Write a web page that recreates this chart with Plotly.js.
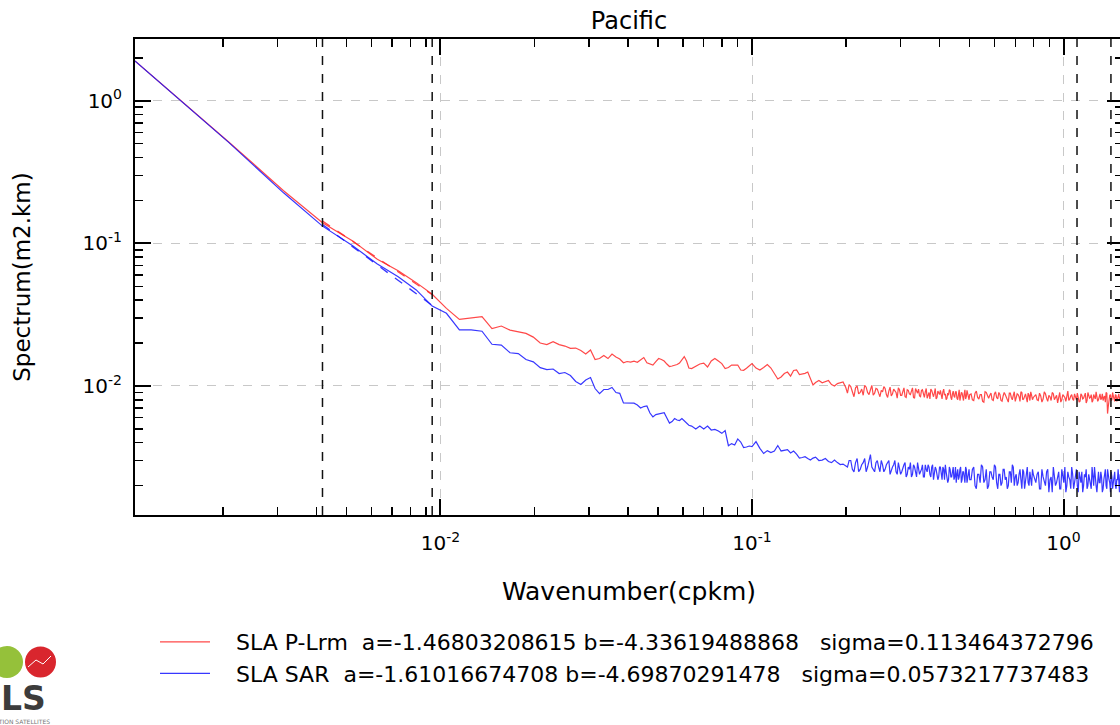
<!DOCTYPE html>
<html><head><meta charset="utf-8">
<script src="https://cdn.plot.ly/plotly-3.0.1.min.js"></script>
<style>html,body{margin:0;padding:0;overflow:hidden;background:#fff}#chart{width:1140px;height:725px}</style>
</head><body><div id="chart"></div>
<script>
// ---- wavenumbers (cpkm) ----
const kLow = [0.001045,0.00209,0.003135,0.00418,0.005225,0.00627,0.007315,0.00836,0.009405,0.01045,
  0.0115,0.01254,0.01359,0.01463,0.01568,0.01672,0.01777,0.01881,0.01986,0.0209,
  0.02195,0.02299,0.02404,0.02508,0.02613,0.02717,0.02822,0.02926,0.03031,0.03135,
  0.0324,0.03344,0.03449,0.03553,0.03658,0.03762,0.03867,0.03971,0.04076,0.0418,
  0.04285,0.04389,0.04494,0.04598,0.04703,0.04807,0.04912,0.05016,0.05121,0.05225,
  0.0533,0.05434,0.05539,0.05643,0.05748,0.05852,0.05957,0.06061,0.06166,0.0627];
const kMid = [0.064,0.066,0.068,0.07,0.072,0.074,0.076,0.078,0.08,0.082,0.084,0.086,0.088,0.09,0.092,0.094,0.096,0.098,0.1,
  0.103,0.106,0.109,0.112,0.115,0.118,0.121,0.124,0.127,0.13,0.133,0.136,0.139,0.142,0.145,0.148,0.151,0.154,0.157,0.16,
  0.164,0.168,0.172,0.176,0.18,0.184,0.188,0.192,0.196,0.2];
const kHighA = [0.205,0.21,0.215,0.22,0.225,0.23,0.235,0.24,0.245,0.25,
  0.255,0.26,0.265,0.27,0.275,0.28,0.285,0.29,0.295,0.3,
  0.305,0.31,0.315,0.32,0.325,0.33,0.335,0.34,0.345,0.35,
  0.355,0.36,0.365,0.37,0.375,0.38,0.385,0.39,0.395,0.4,
  0.405,0.41,0.415,0.42,0.425,0.43,0.435,0.44,0.445,0.45,
  0.455,0.46,0.465,0.47,0.475,0.48,0.485,0.49,0.495,0.5];
const kHighB = [0.51,0.52,0.53,0.54,0.55,0.56,0.57,0.58,0.59,0.6,
  0.61,0.62,0.63,0.64,0.65,0.66,0.67,0.68,0.69,0.7,
  0.71,0.72,0.73,0.74,0.75,0.76,0.77,0.78,0.79,0.8];
const kHighC = [0.815,0.83,0.845,0.86,0.875,0.89,0.905,0.92,0.935,0.95,
  0.965,0.98,0.995,1.01,1.025,1.04,1.055,1.07,1.085,1.1,
  1.115,1.13,1.145,1.16,1.175,1.19,1.205,1.22,1.235,1.25,
  1.265,1.28,1.295,1.31,1.325,1.34,1.355,1.37,1.385,1.4,
  1.415,1.43,1.445,1.46,1.475,1.49,1.505,1.52,1.535,1.55,1.565];
// in-between wavenumbers of the noisy plateau
const kFillA = [0.2025,0.2075,0.2125,0.2175,0.2225,0.2275,0.2325,0.2375,0.2425,0.2475,
  0.2525,0.2575,0.2625,0.2675,0.2725,0.2775,0.2825,0.2875,0.2925,0.2975,
  0.3025,0.3075,0.3125,0.3175,0.3225,0.3275,0.3325,0.3375,0.3425,0.3475,
  0.3525,0.3575,0.3625,0.3675,0.3725,0.3775,0.3825,0.3875,0.3925,0.3975,
  0.4025,0.4075,0.4125,0.4175,0.4225,0.4275,0.4325,0.4375,0.4425,0.4475,
  0.4525,0.4575,0.4625,0.4675,0.4725,0.4775,0.4825,0.4875,0.4925,0.4975];
const kFillB = [0.505,0.515,0.525,0.535,0.545,0.555,0.565,0.575,0.585,0.595,
  0.605,0.615,0.625,0.635,0.645,0.655,0.665,0.675,0.685,0.695,
  0.705,0.715,0.725,0.735,0.745,0.755,0.765,0.775,0.785,0.795];
const kFillC = [0.8225,0.8375,0.8525,0.8675,0.8825,0.8975,0.9125,0.9275,0.9425,0.9575,
  0.9725,0.9875,1.0025,1.0175,1.0325,1.0475,1.0625,1.0775,1.0925,1.1075,
  1.1225,1.1375,1.1525,1.1675,1.1825,1.1975,1.2125,1.2275,1.2425,1.2575,
  1.2725,1.2875,1.3025,1.3175,1.3325,1.3475,1.3625,1.3775,1.3925,1.4075,
  1.4225,1.4375,1.4525,1.4675,1.4825,1.4975,1.5125,1.5275,1.5425,1.5575];

// ---- SLA P-Lrm spectrum (m2.km) ----
const redLow = [1.90,0.514,0.234,0.1395,0.104,0.0772,0.0643,0.0530,0.0439,0.0350,
  0.0293,0.0300,0.0306,0.0252,0.0263,0.02465,0.02387,0.02336,0.0220,0.01998,
  0.0195,0.0204,0.0195,0.01904,0.01834,0.01844,0.01771,0.01673,0.01785,0.01531,
  0.01556,0.01633,0.01556,0.01673,0.01594,0.01544,0.01455,0.01483,0.01471,0.0149,
  0.01466,0.01519,0.01582,0.01455,0.01424,0.01401,0.01483,0.01556,0.01531,0.01495,
  0.01424,0.01368,0.01379,0.01393,0.01412,0.01447,0.01519,0.01607,0.01495,0.01335];
const redMid = [0.01325,0.01372,0.01424,0.01447,0.01357,0.01495,0.01556,0.01495,0.01435,0.01325,
  0.01346,0.01401,0.01401,0.01401,0.01293,0.01287,0.01331,0.01379,0.01435,
  0.01335,0.01293,0.01346,0.01412,0.01335,0.01232,0.01118,0.01155,0.01222,0.01252,
  0.01173,0.01283,0.01293,0.01203,0.01212,0.01226,0.01252,0.01127,0.01015,0.01057,
  0.01091,0.01052,0.01065,0.01091,0.01023,0.00998,0.01039,0.01057,0.01065,0.00975];
const redHighA = [0.0102,0.0091,0.0097,0.0088,0.0095,0.0101,0.0090,0.0094,0.0086,0.0096,
  0.0089,0.0093,0.0099,0.0087,0.0092,0.0085,0.0095,0.0090,0.0097,0.0086,
  0.0091,0.0084,0.0094,0.0088,0.0092,0.0083,0.0096,0.0089,0.0085,0.0093,
  0.0087,0.0091,0.0082,0.0090,0.0095,0.0086,0.0089,0.0081,0.0092,0.0087,
  0.0084,0.0091,0.0086,0.0080,0.0089,0.0094,0.0083,0.0088,0.0085,0.0091,
  0.0082,0.0087,0.0079,0.0090,0.0085,0.0088,0.0081,0.0093,0.0084,0.0087];
const redHighB = [0.0080,0.0089,0.0083,0.0087,0.0078,0.0091,0.0084,0.0086,0.0080,0.0088,
  0.0083,0.0090,0.0079,0.0085,0.0087,0.0081,0.0089,0.0083,0.0086,0.0078,
  0.0088,0.0084,0.0091,0.0080,0.0085,0.0082,0.0089,0.0079,0.0086,0.0083];
const redHighC = [0.0087,0.0079,0.0085,0.0081,0.0088,0.0078,0.0084,0.0090,0.0080,0.0086,
  0.0082,0.0077,0.0087,0.0083,0.0089,0.0079,0.0085,0.0081,0.0088,0.0080,
  0.0084,0.0078,0.0086,0.0082,0.0089,0.0079,0.0085,0.0083,0.0077,0.0087,
  0.0081,0.0086,0.0080,0.0088,0.0082,0.0079,0.0085,0.0090,0.0064,0.0083,
  0.0087,0.0080,0.0085,0.0078,0.0086,0.0082,0.0088,0.0079,0.0084,0.0081,0.0086];
const redFillA = [0.0089,0.0099,0.0084,0.0100,0.0090,0.0086,0.0098,0.0087,0.0101,0.0089,
  0.0095,0.0084,0.0091,0.0096,0.0083,0.0098,0.0088,0.0093,0.0082,0.0094,
  0.0086,0.0097,0.0083,0.0093,0.0087,0.0097,0.0082,0.0092,0.0095,0.0084,
  0.0094,0.0083,0.0096,0.0085,0.0081,0.0093,0.0084,0.0096,0.0083,0.0090,
  0.0093,0.0081,0.0095,0.0088,0.0082,0.0086,0.0093,0.0080,0.0092,0.0083,
  0.0091,0.0080,0.0094,0.0083,0.0089,0.0079,0.0094,0.0084,0.0090,0.0080];
const redFillB = [0.0088,0.0079,0.0092,0.0081,0.0087,0.0077,0.0090,0.0082,0.0089,0.0079,
  0.0091,0.0081,0.0087,0.0078,0.0090,0.0084,0.0077,0.0089,0.0080,0.0091,
  0.0082,0.0087,0.0078,0.0090,0.0081,0.0088,0.0077,0.0086,0.0091,0.0080];
const redFillC = [0.0080,0.0089,0.0077,0.0091,0.0082,0.0086,0.0079,0.0088,0.0083,0.0076,
  0.0090,0.0080,0.0085,0.0078,0.0092,0.0081,0.0087,0.0079,0.0084,0.0089,
  0.0077,0.0088,0.0081,0.0085,0.0076,0.0090,0.0082,0.0087,0.0079,0.0084,
  0.0091,0.0078,0.0086,0.0080,0.0088,0.0083,0.0077,0.0089,0.0072,0.0086,
  0.0079,0.0090,0.0081,0.0087,0.0078,0.0085,0.0080,0.0089,0.0082,0.0078];

// ---- SLA SAR spectrum (m2.km) ----
const blueLow = [1.90,0.510,0.226,0.132,0.096,0.0716,0.0583,0.0471,0.0363,0.0323,
  0.0247,0.0247,0.0242,0.0196,0.01935,0.01708,0.01686,0.01531,0.01476,0.01343,
  0.01303,0.01314,0.01222,0.01242,0.01183,0.01074,0.01023,0.0110,0.01145,0.00959,
  0.00884,0.00944,0.00944,0.00975,0.00899,0.00888,0.00761,0.00761,0.00760,0.00757,
  0.00735,0.00700,0.00717,0.00723,0.00646,0.00606,0.0063,0.00639,0.00646,0.00649,
  0.00596,0.00549,0.00563,0.00591,0.00577,0.00572,0.00591,0.00567,0.00545,0.0053];
const blueMid = [0.00523,0.00499,0.00523,0.00499,0.00523,0.00491,0.00495,0.00483,0.00465,0.00487,
  0.00381,0.00394,0.00385,0.00425,0.00404,0.0037,0.00373,0.00379,0.00376,
  0.00407,0.00365,0.00336,0.00352,0.00341,0.00349,0.00382,0.0035,0.00355,0.00358,
  0.00339,0.0035,0.00333,0.00312,0.00315,0.00319,0.0031,0.00302,0.00312,0.00317,
  0.0030,0.00302,0.0031,0.00295,0.0029,0.00302,0.0029,0.00281,0.00283,0.00274];
const blueHighA = [0.0030,0.0026,0.0029,0.0025,0.0028,0.0031,0.0027,0.0033,0.0026,0.0029,
  0.0027,0.0030,0.0025,0.0028,0.0030,0.0026,0.0028,0.0025,0.0029,0.0024,
  0.0027,0.0029,0.0024,0.0026,0.0023,0.0028,0.0025,0.0029,0.0024,0.0026,
  0.0023,0.0028,0.0025,0.0027,0.0023,0.0028,0.0024,0.0026,0.0022,0.0027,
  0.0024,0.0027,0.0022,0.0025,0.0021,0.0027,0.0023,0.0026,0.0022,0.0027,
  0.0024,0.0022,0.0026,0.0021,0.0025,0.0023,0.0027,0.0021,0.0024,0.0022];
const blueHighB = [0.0026,0.0020,0.0024,0.0021,0.0027,0.0022,0.0019,0.0025,0.0023,0.0028,
  0.0021,0.0024,0.0020,0.0026,0.0022,0.0019,0.0025,0.0021,0.0027,0.0023,
  0.0020,0.0024,0.0022,0.0026,0.0019,0.0023,0.0021,0.0025,0.0020,0.0024];
const blueHighC = [0.0021,0.0025,0.0019,0.0023,0.0020,0.0026,0.0022,0.0018,0.0024,0.0021,
  0.0025,0.0019,0.0022,0.0027,0.0020,0.0023,0.0019,0.0024,0.0021,0.0026,
  0.0018,0.0022,0.0025,0.0020,0.0023,0.0019,0.0024,0.0021,0.0027,0.0020,
  0.0022,0.0018,0.0025,0.0021,0.0023,0.0019,0.0024,0.0020,0.0026,0.0022,
  0.0018,0.0023,0.0021,0.0025,0.0019,0.0022,0.0020,0.0024,0.0021,0.0019,0.0023];
const blueFillA = [0.0027,0.0030,0.0025,0.0031,0.0026,0.0029,0.0025,0.0030,0.0027,0.0025,
  0.0030,0.0025,0.0028,0.0026,0.0029,0.0024,0.0027,0.0030,0.0024,0.0027,
  0.0025,0.0028,0.0023,0.0027,0.0029,0.0024,0.0027,0.0023,0.0027,0.0025,
  0.0028,0.0023,0.0026,0.0028,0.0024,0.0027,0.0022,0.0027,0.0024,0.0023,
  0.0027,0.0022,0.0026,0.0028,0.0023,0.0022,0.0026,0.0023,0.0027,0.0023,
  0.0021,0.0026,0.0023,0.0027,0.0022,0.0025,0.0021,0.0026,0.0023,0.0026];
const blueFillB = [0.0022,0.0027,0.0019,0.0024,0.0028,0.0021,0.0026,0.0020,0.0025,0.0022,
  0.0027,0.0019,0.0024,0.0021,0.0026,0.0023,0.0020,0.0025,0.0028,0.0020,
  0.0024,0.0021,0.0026,0.0019,0.0025,0.0022,0.0027,0.0020,0.0023,0.0026];
const blueFillC = [0.0024,0.0019,0.0026,0.0021,0.0025,0.0018,0.0023,0.0027,0.0020,0.0024,
  0.0019,0.0026,0.0021,0.0018,0.0025,0.0022,0.0027,0.0019,0.0023,0.0020,
  0.0025,0.0021,0.0018,0.0024,0.0026,0.0020,0.0022,0.0019,0.0024,0.0027,
  0.0020,0.0023,0.0021,0.0025,0.0018,0.0022,0.0026,0.0019,0.0023,0.0021,
  0.0025,0.0019,0.0024,0.0020,0.0022,0.0026,0.0018,0.0023,0.0020,0.0024];

// ---- fitted slopes over the fit band ----
const fitK = [0.00418, 0.009405];
const fitRed = [0.1432, 0.0436];
const fitBlue = [0.1354, 0.0367];
const vLines = [0.00418, 0.009405, 1.105, 1.42];

// ---- labels & ticks ----
const nameRed = '\u00a0\u00a0\u00a0SLA P-Lrm\u00a0\u00a0a=-1.46803208615 b=-4.33619488868\u00a0\u00a0\u00a0sigma=0.113464372796';
const nameBlue = '\u00a0\u00a0\u00a0SLA SAR\u00a0\u00a0a=-1.61016674708 b=-4.69870291478\u00a0\u00a0\u00a0sigma=0.0573217737483';
const xMajor = [0.01, 0.1, 1];
const xMajorText = ['10<sup>-2</sup>', '10<sup>-1</sup>', '10<sup>0</sup>'];
const yMajor = [0.01, 0.1, 1];
const yMajorText = ['10<sup>-2</sup>', '10<sup>-1</sup>', '10<sup>0</sup>'];
const xMinor = [0.002,0.003,0.004,0.005,0.006,0.007,0.008,0.009,0.02,0.03,0.04,0.05,0.06,0.07,0.08,0.09,0.2,0.3,0.4,0.5,0.6,0.7,0.8,0.9];
const yMinor = [0.002,0.003,0.004,0.005,0.006,0.007,0.008,0.009,0.02,0.03,0.04,0.05,0.06,0.07,0.08,0.09,0.2,0.3,0.4,0.5,0.6,0.7,0.8,0.9,2];

// merge segments into one series sorted by wavenumber
function series(kParts, vParts) {
  const pts = [];
  kParts.forEach((ks, i) => ks.forEach((k, j) => pts.push([k, vParts[i][j]])));
  pts.sort((a, b) => a[0] - b[0]);
  return {x: pts.map(p => p[0]), y: pts.map(p => p[1])};
}
const kParts = [kLow, kMid, kHighA, kHighB, kHighC, kFillA, kFillB, kFillC];
const red = series(kParts, [redLow, redMid, redHighA, redHighB, redHighC, redFillA, redFillB, redFillC]);
const blue = series(kParts, [blueLow, blueMid, blueHighA, blueHighB, blueHighC, blueFillA, blueFillB, blueFillC]);

const RED = 'rgba(255,40,40,0.85)';
const BLUE = 'rgba(20,20,255,0.85)';

const traces = [
  {x: red.x, y: red.y, type: 'scatter', mode: 'lines', name: nameRed, line: {color: RED, width: 1.2}},
  {x: blue.x, y: blue.y, type: 'scatter', mode: 'lines', name: nameBlue, line: {color: BLUE, width: 1.2}},
  {x: fitK, y: fitRed, type: 'scatter', mode: 'lines', showlegend: false, line: {color: RED, width: 1.3, dash: 'dash'}},
  {x: fitK, y: fitBlue, type: 'scatter', mode: 'lines', showlegend: false, line: {color: BLUE, width: 1.3, dash: 'dash'}}
];

const shapes = vLines.map(v => ({type: 'line', xref: 'x', yref: 'paper', x0: v, x1: v, y0: 0, y1: 1,
  line: {color: '#111', width: 1.5, dash: 'dash'}, layer: 'above'}));
// logo
shapes.push({type: 'circle', xref: 'paper', yref: 'paper', xsizemode: 'pixel', ysizemode: 'pixel', xanchor: 0, yanchor: 0,
  x0: -144, x1: -112, y0: -163, y1: -131, fillcolor: '#95c13a', line: {width: 0}, layer: 'above'});
shapes.push({type: 'circle', xref: 'paper', yref: 'paper', xsizemode: 'pixel', ysizemode: 'pixel', xanchor: 0, yanchor: 0,
  x0: -110, x1: -79, y0: -162.5, y1: -131.5, fillcolor: '#d9262e', line: {width: 0}, layer: 'above'});
shapes.push({type: 'path', xref: 'paper', yref: 'paper', xsizemode: 'pixel', ysizemode: 'pixel', xanchor: 0, yanchor: 0,
  path: 'M-107,-152 L-99,-145 L-92,-149 L-84,-141', line: {color: '#fff', width: 1}, layer: 'above'});

const axisCommon = {
  type: 'log', tickmode: 'array', ticks: 'inside', ticklen: 16, tickwidth: 2, tickcolor: '#000',
  showline: true, linecolor: '#000', linewidth: 2, mirror: 'allticks',
  showgrid: true, gridcolor: '#c8c8c8', griddash: 'dash', gridwidth: 1, zeroline: false,
  automargin: false, tickfont: {size: 20, color: '#000'}
};

const layout = {
  width: 1140, height: 725, autosize: false,
  margin: {l: 135, r: 17, t: 39, b: 210, pad: 0},
  paper_bgcolor: '#fff', plot_bgcolor: '#fff',
  font: {family: 'DejaVu Sans', size: 20, color: '#000'},
  title: {text: 'Pacific', font: {size: 24, color: '#000'}, x: 0.5, xref: 'paper', y: 1 - 21/725, yref: 'container', yanchor: 'middle'},
  showlegend: true,
  legend: {xref: 'paper', yref: 'paper', x: (155 - 135)/988, y: (515 - 621)/476, xanchor: 'left', yanchor: 'top',
    font: {size: 22, color: '#000'}, itemwidth: 50, bgcolor: 'rgba(0,0,0,0)', borderwidth: 0, tracegroupgap: 0},
  xaxis: Object.assign({}, axisCommon, {
    range: [-2.9807, 0.191], tickvals: xMajor, ticktext: xMajorText, ticklabelstandoff: 9,
    minor: {tickvals: xMinor, ticks: 'inside', ticklen: 8, tickwidth: 1.5, tickcolor: '#000', showgrid: false},
    title: {text: 'Wavenumber(cpkm)', font: {size: 25}, standoff: 28}
  }),
  yaxis: Object.assign({}, axisCommon, {
    range: [-2.905, 0.4327], tickvals: yMajor, ticktext: yMajorText, ticklabelstandoff: 7,
    minor: {tickvals: yMinor, ticks: 'inside', ticklen: 8, tickwidth: 1.5, tickcolor: '#000', showgrid: false},
    title: {text: 'Spectrum(m2.km)', font: {size: 23}, standoff: 46}
  }),
  shapes: shapes,
  annotations: [
    {text: '<b>LS</b>', xref: 'paper', yref: 'paper', x: (-1 - 135)/988, y: (515 - 698)/476, xanchor: 'left', yanchor: 'middle',
      showarrow: false, font: {family: 'DejaVu Sans', size: 33, color: '#3c3c3c'}},
    {text: 'LOCALISATION SATELLITES', xref: 'paper', yref: 'paper', x: (52 - 135)/988, y: (515 - 721)/476, xanchor: 'right', yanchor: 'middle',
      showarrow: false, font: {family: 'DejaVu Sans', size: 6, color: '#777'}}
  ]
};

Plotly.newPlot('chart', traces, layout, {displayModeBar: false, staticPlot: true});
</script>
</body></html>
